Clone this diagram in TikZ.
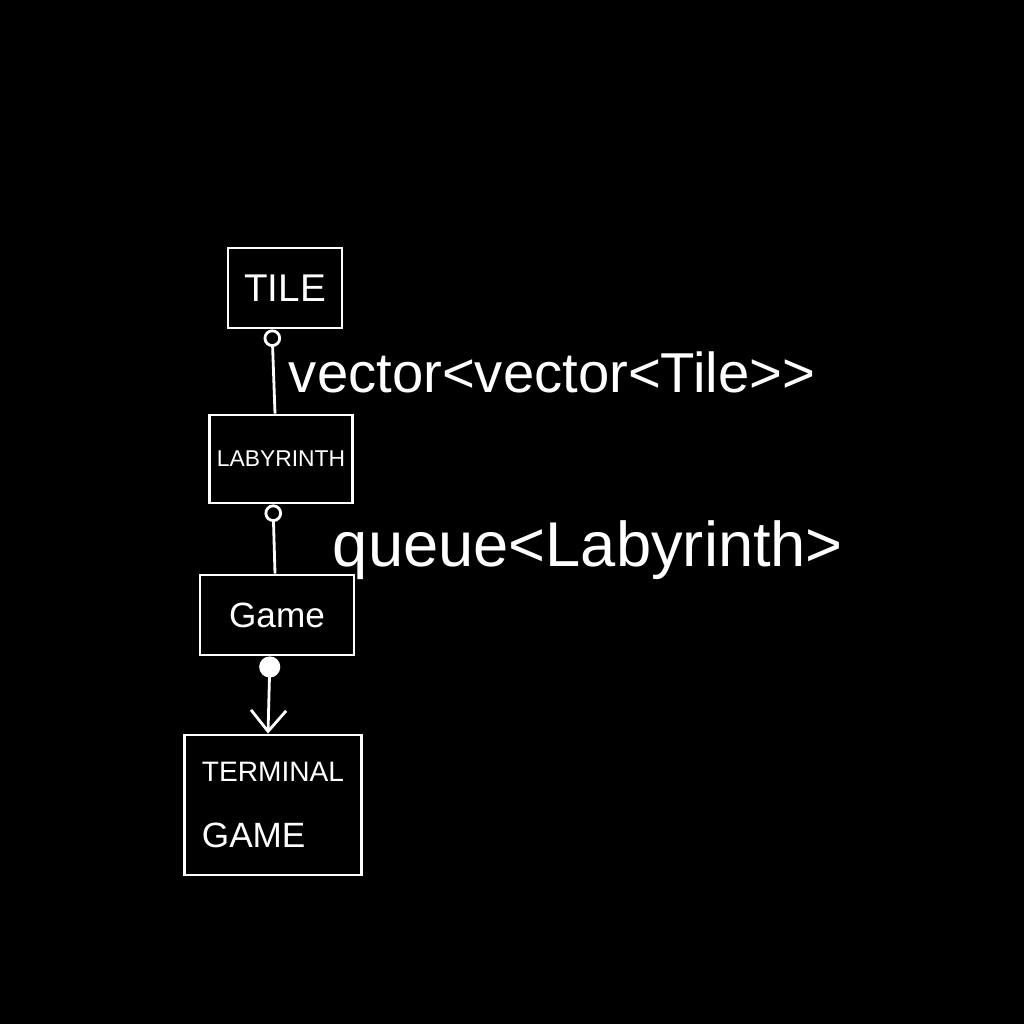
\documentclass[tikz,border=0pt]{standalone}
\usepackage{fontspec}
\setmainfont{Liberation Sans}
\usetikzlibrary{arrows.meta, positioning}

\begin{document}
\begin{tikzpicture}[>=Stealth,
    cls/.style={draw=white, line width=0.8pt, text=white, inner sep=2pt},
    lbl/.style={text=white, font=\fontsize{16}{18}\selectfont},
    link/.style={draw=white, line width=0.8pt}]
        % Canvas
        \fill[black] (0,0) rectangle (10.24,-10.24);
        \useasboundingbox (0,0) rectangle (10.24,-10.24);

        % Classes
        \node[cls, minimum width=1.14cm, minimum height=0.80cm, font=\fontsize{11}{13}\selectfont] (tile) at (2.85,-2.88) {TILE};
        \node[cls, minimum width=1.42cm, minimum height=0.88cm, font=\fontsize{6.5}{8}\selectfont] (laby) at (2.81,-4.59) {LABYRINTH};
        \node[cls, minimum width=1.54cm, minimum height=0.80cm, font=\fontsize{10}{12}\selectfont] (game) at (2.77,-6.15) {Game};
        \node[cls, minimum width=1.77cm, minimum height=1.40cm, align=left, font=\fontsize{8}{10}\selectfont] (term) at (2.73,-8.05) {TERMINAL\\[9pt]{\fontsize{10}{12}\selectfont GAME}};

        % Member types
        \node[lbl] (vec) at (5.52,-3.72) {vector<vector<Tile>{}>};
        \node[lbl, font=\fontsize{18}{21}\selectfont] (que) at (5.88,-5.50) {queue<Labyrinth>};

        % Links
        \draw[link, {Circle[open, length=5pt]}-] ([xshift=-1.3mm]tile.south) -- ([xshift=-0.6mm]laby.north);
        \draw[link, {Circle[open, length=5pt]}-] ([xshift=-0.8mm]laby.south) -- ([xshift=-0.2mm]game.north);
        \draw[link, {Circle[length=6pt]}-{Straight Barb[length=6pt, width=10pt]}] ([xshift=-0.7mm]game.south) -- ([xshift=-0.5mm]term.north);
    \end{tikzpicture}
\end{document}
